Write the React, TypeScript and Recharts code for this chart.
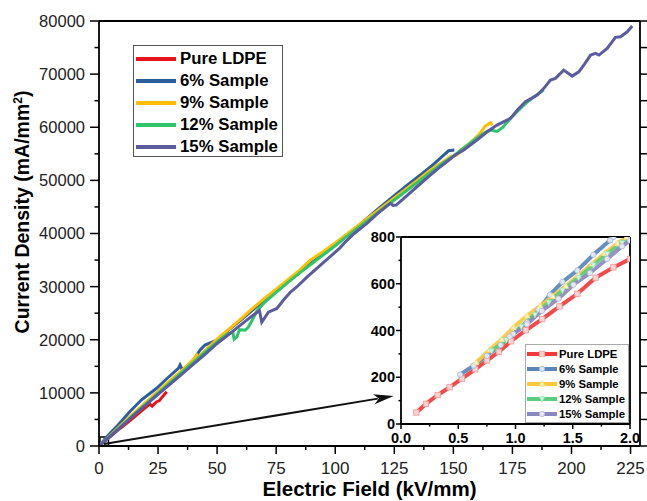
import React from 'react';
import { LineChart, Line, XAxis, YAxis, ReferenceArea, ReferenceLine } from 'recharts';

const FONT = '"Liberation Sans", Arial, Helvetica, sans-serif';

// main plot: electric field (kV/mm) vs current density (mA/mm^2)
const ldpeMain = [
  [0, 0], [3, 1100], [6, 2250], [9, 3350], [11.7, 4270], [15, 5500], [18, 6600], [20.2, 7400],
  [21.5, 7900], [22.5, 7500], [24.4, 8340], [25.5, 8500], [26.5, 9100], [27.5, 9600], [28.7, 10220],
];
const sample6Main = [
  [0, 0], [3.3, 1750], [8, 3900], [13.1, 6500], [18, 8700], [24.4, 10860], [29, 12800], [33.6, 14620],
  [34.3, 15240], [35.2, 14400], [36.4, 14620], [40, 16190], [42.8, 18070], [44.9, 19010], [49.9, 19950],
  [55, 21900], [60, 23700], [65, 25600], [70, 27500], [75, 29300], [80, 31100], [85, 32800], [90, 34500],
  [95, 36200], [100, 37900], [106, 40000], [112, 42300], [118, 44600], [126, 47500], [131, 49300],
  [136, 51000], [141, 52800], [145.9, 54770], [148, 55580], [150.4, 55700],
];
const sample9Main = [
  [0, 0], [5, 2100], [10, 4200], [15, 6300], [20, 8300], [25, 10300], [30, 12300], [35, 14200],
  [40, 16300], [41.4, 17130], [42, 16700], [45, 18000], [50, 20100], [55, 22000], [60, 23900],
  [65, 25900], [70, 27800], [75, 29500], [80, 31300], [85, 33100], [89.4, 35000], [95, 36600],
  [100, 38200], [105, 39900], [110, 41600], [115, 43300], [120, 45000], [125, 46700], [130, 48400],
  [135, 50100], [140.3, 51940], [145, 53300], [149, 54500], [151.5, 54770], [153, 55700], [157, 57000],
  [161, 58700], [163.5, 60200], [165.7, 60850], [166.5, 60400],
];
const sample12Main = [
  [0, 0], [5, 2000], [10, 4000], [15, 6000], [20, 8000], [25, 9950], [30, 11900], [35, 13850],
  [40, 15800], [45, 17700], [50, 19600], [54, 21000], [56.6, 21500], [57.2, 20100], [58.3, 20500],
  [59.5, 21900], [61.9, 21800], [63.3, 22450], [65, 23800], [66.8, 25400], [70, 27000], [75, 28900],
  [80, 30800], [85, 32600], [90, 34300], [95, 36000], [100, 37700], [105, 39500], [110, 41200],
  [115, 42900], [120, 44600], [125, 46300], [130, 48000], [135, 49700], [140, 51400], [145, 53100],
  [150, 54600], [155, 56300], [160, 58000], [163, 58900], [165.7, 59470], [168.5, 59200], [171, 60000],
  [174, 61600], [177, 62920], [179.1, 63860], [182, 65000], [185, 66000], [188.3, 67000],
];
const sample15Main = [
  [0, 0], [5, 1900], [10, 3900], [15, 5900], [20, 7800], [25, 9700], [30, 11600], [35, 13500],
  [40, 15400], [45, 17300], [50, 19300], [55, 21000], [60, 22800], [64, 24200], [67.9, 25500],
  [68.9, 23300], [71.7, 25200], [75.3, 25900], [78.1, 27480], [80.9, 28900], [83.8, 29980], [88, 31800],
  [92.2, 33440], [97, 35300], [102, 37300], [104.2, 38390], [108, 40000], [113.4, 41910], [118, 43800],
  [123.3, 45680], [124.5, 45300], [125.8, 45360], [130, 47000], [134.6, 48800], [139.5, 50700],
  [144.5, 52570], [150.8, 54770], [154.4, 55710], [160, 57590], [164.3, 59150], [168.5, 60410],
  [174.2, 61670], [177, 63200], [180.5, 64800], [185.5, 66060], [188.3, 67320], [191.1, 68880],
  [193.2, 69200], [196.7, 70760], [200.3, 69630], [203.1, 70440], [205.5, 71900], [208.1, 73590],
  [210.2, 73900], [211.6, 73590], [215.1, 74850], [218.6, 76920], [220.8, 77030], [223.6, 77970],
  [225.7, 79040],
];

// inset: 0 - 2 kV/mm
const ldpeInset = [
  [0.134, 49], [0.218, 86], [0.32, 124], [0.424, 157], [0.532, 194], [0.648, 234], [0.75, 271],
  [0.855, 309], [0.962, 354], [1.09, 401], [1.233, 449], [1.384, 503], [1.54, 557], [1.7, 626],
  [1.855, 670], [2.0, 706],
];
const sample6Inset = [
  [0.517, 211], [0.634, 250], [0.75, 292], [0.87, 338], [0.98, 385], [1.1, 435], [1.2, 490],
  [1.3, 553], [1.41, 608], [1.54, 657], [1.68, 724], [1.826, 786], [1.855, 800],
];
const sample9Inset = [
  [0.657, 263], [0.773, 317], [0.88, 362], [0.983, 414], [1.1, 463], [1.215, 506], [1.326, 546],
  [1.44, 590], [1.55, 635], [1.67, 685], [1.78, 730], [1.89, 772], [1.97, 800],
];
const sample12Inset = [
  [0.79, 313], [0.92, 360], [1.05, 417], [1.17, 468], [1.29, 520], [1.41, 572], [1.55, 626],
  [1.68, 680], [1.8, 728], [1.93, 775], [2.0, 800],
];
const sample15Inset = [
  [0.948, 374], [1.1, 427], [1.23, 484], [1.375, 536], [1.506, 596], [1.65, 646], [1.8, 706],
  [1.93, 760], [2.0, 785],
];

const seriesNames = ['Pure LDPE', '6% Sample', '9% Sample', '12% Sample', '15% Sample'];
const mainColors = ['#e8141c', '#2c5d9f', '#ffbf00', '#2fc66b', '#5b5ba0'];
const insetColors = ['#f2393b', '#5b86ba', '#fcc93a', '#5ccd7d', '#8a88c1'];
const insetFills = ['#fcd2d2', '#dfe8f5', '#fff3c4', '#d9f5e1', '#e8e7f6'];
const insetMarkStroke = ['#f59a9a', '#9fb8d8', '#fde08a', '#9ee2b1', '#b9b7dc'];
const insetShapes = ['square', 'circle', 'up', 'down', 'circle'];

const xTicksMain = [0, 12.5, 25, 37.5, 50, 62.5, 75, 87.5, 100, 112.5, 125, 137.5, 150, 162.5, 175, 187.5, 200, 212.5, 225];
const yTicksMain = [0, 5000, 10000, 15000, 20000, 25000, 30000, 35000, 40000, 45000, 50000, 55000, 60000, 65000, 70000, 75000, 80000];
const xTicksInset = [0, 0.25, 0.5, 0.75, 1, 1.25, 1.5, 1.75, 2];
const yTicksInset = [0, 100, 200, 300, 400, 500, 600, 700, 800];

const toPts = (arr: number[][]) => arr.map(([x, y]) => ({ x, y }));
const mainData = [ldpeMain, sample6Main, sample9Main, sample12Main, sample15Main].map(toPts);
const insetData = [ldpeInset, sample6Inset, sample9Inset, sample12Inset, sample15Inset].map(toPts);

const axisLine = { stroke: '#000', strokeWidth: 1.8 };

// tick helpers: recharts gives the point on the axis line, we draw the tick and label ourselves
const bottomTick = (step: number, len: number, size: number, bold: boolean, fmt: (v: number) => string, dy: number) =>
  (p: any) => {
    const v = p.payload.value;
    const major = Math.abs(v / step - Math.round(v / step)) < 1e-6;
    return (
      <g key={`b-${v}`}>
        <line x1={p.x} x2={p.x} y1={p.y} y2={p.y + (major ? len : len / 2)} stroke="#000" strokeWidth={1.5} />
        {major && (
          <text x={p.x} y={p.y + dy} textAnchor="middle" fontSize={size} fontWeight={bold ? 700 : 400}
            fill={bold ? '#000' : '#222'} fontFamily={FONT}>
            {fmt(v)}
          </text>
        )}
      </g>
    );
  };

const leftTick = (step: number, len: number, size: number, bold: boolean, gap: number) => (p: any) => {
  const v = p.payload.value;
  const major = v % step === 0;
  return (
    <g key={`l-${v}`}>
      <line x1={p.x} x2={p.x - (major ? len : len / 2)} y1={p.y} y2={p.y} stroke="#000" strokeWidth={1.5} />
      {major && (
        <text x={p.x - gap} y={p.y} dy="0.36em" textAnchor="end" fontSize={size} fontWeight={bold ? 700 : 400}
          fill={bold ? '#000' : '#222'} fontFamily={FONT}>
          {v}
        </text>
      )}
    </g>
  );
};

const topTick = (step: number, len: number) => (p: any) => {
  const v = p.payload.value;
  const major = Math.abs(v / step - Math.round(v / step)) < 1e-6;
  return (
    <g key={`t-${v}`}>
      <line x1={p.x} x2={p.x} y1={p.y} y2={p.y - (major ? len : len / 2)} stroke="#000" strokeWidth={1.5} />
    </g>
  );
};

const rightTick = (len: number) => (p: any) => (
  <g key={`r-${p.payload.value}`}>
    <line x1={p.x} x2={p.x + len} y1={p.y} y2={p.y} stroke="#000" strokeWidth={1.5} />
  </g>
);

const Marker = ({ cx, cy, shape, stroke, fill }: any) => {
  if (cx == null || cy == null) return null;
  const r = 2.7;
  if (shape === 'square') {
    return <rect x={cx - r} y={cy - r} width={r * 2} height={r * 2} fill={fill} stroke={stroke} strokeWidth={0.8} />;
  }
  if (shape === 'up') {
    return <polygon points={`${cx},${cy - r - 0.5} ${cx - r},${cy + r - 0.5} ${cx + r},${cy + r - 0.5}`} fill={fill} stroke={stroke} strokeWidth={0.8} />;
  }
  if (shape === 'down') {
    return <polygon points={`${cx},${cy + r + 0.5} ${cx - r},${cy - r + 0.5} ${cx + r},${cy - r + 0.5}`} fill={fill} stroke={stroke} strokeWidth={0.8} />;
  }
  return <circle cx={cx} cy={cy} r={r} fill={fill} stroke={stroke} strokeWidth={0.8} />;
};

const Arrow = (p: any) => {
  const { x1, y1, x2, y2 } = p;
  const ang = Math.atan2(y2 - y1, x2 - x1);
  const L = 20;
  const W = 5;
  const bx = x2 - L * Math.cos(ang);
  const by = y2 - L * Math.sin(ang);
  const nx = -Math.sin(ang) * W;
  const ny = Math.cos(ang) * W;
  return (
    <g>
      <line x1={x1} y1={y1} x2={bx + 4 * Math.cos(ang)} y2={by + 4 * Math.sin(ang)} stroke="#111" strokeWidth={2} />
      <polygon points={`${x2},${y2} ${bx + nx},${by + ny} ${bx + 5 * Math.cos(ang)},${by + 5 * Math.sin(ang)} ${bx - nx},${by - ny}`} fill="#111" />
    </g>
  );
};

function MainLegend() {
  return (
    <div style={{ position: 'absolute', left: 133, top: 45, width: 148, height: 110, border: '1px solid #555', background: '#fff' }}>
      {seriesNames.map((n, i) => (
        <div key={n} style={{ position: 'absolute', left: 0, top: 2 + i * 22, height: 22, display: 'flex', alignItems: 'center' }}>
          <span style={{ display: 'inline-block', marginLeft: 2, width: 40, height: 4, background: mainColors[i] }} />
          <span style={{ marginLeft: 4, fontFamily: FONT, fontWeight: 700, fontSize: 16.8, color: '#000', whiteSpace: 'nowrap' }}>{n}</span>
        </div>
      ))}
    </div>
  );
}

function InsetLegend() {
  return (
    <div style={{ position: 'absolute', left: 525, top: 344, width: 102, height: 77, border: '1px solid #aaa', background: '#fff' }}>
      {seriesNames.map((n, i) => (
        <div key={n} style={{ position: 'absolute', left: 0, top: 1 + i * 15, height: 15, display: 'flex', alignItems: 'center' }}>
          <svg width={30} height={10} style={{ marginLeft: 1 }}>
            <line x1={0} x2={30} y1={5} y2={5} stroke={insetColors[i]} strokeWidth={4} />
            <Marker cx={15} cy={5} shape={insetShapes[i]} stroke={insetMarkStroke[i]} fill={insetFills[i]} />
          </svg>
          <span style={{ marginLeft: 2, fontFamily: FONT, fontWeight: 700, fontSize: 11.3, color: '#000', whiteSpace: 'nowrap' }}>{n}</span>
        </div>
      ))}
    </div>
  );
}

export default function App() {
  return (
    <div style={{ position: 'absolute', left: 0, top: 0, width: 647, height: 501, background: '#fff', overflow: 'hidden' }}>
      <LineChart width={647} height={501} margin={{ top: 7, right: 0, bottom: 25, left: 8 }}>
        <XAxis dataKey="x" type="number" domain={[0, 229]} ticks={xTicksMain} interval={0} allowDataOverflow
          height={30} tickSize={0} tickMargin={0} tickLine={false} axisLine={axisLine}
          tick={bottomTick(25, 8, 17, false, (v) => String(v), 28)} />
        <XAxis xAxisId="top" orientation="top" type="number" domain={[0, 229]} ticks={xTicksMain} interval={0}
          allowDataOverflow height={14} tickSize={0} tickMargin={0} tickLine={false} axisLine={axisLine}
          tick={topTick(25, 8)} />
        <YAxis dataKey="y" type="number" domain={[0, 80000]} ticks={yTicksMain} interval={0} allowDataOverflow
          width={91} tickSize={0} tickMargin={0} tickLine={false} axisLine={axisLine}
          tick={leftTick(10000, 9, 16.5, false, 14)} />
        <YAxis yAxisId="right" orientation="right" type="number" domain={[0, 80000]} ticks={yTicksMain} interval={0}
          allowDataOverflow width={7} tickSize={0} tickMargin={0} tickLine={false} axisLine={axisLine}
          tick={rightTick(7)} />
        {mainData.map((d, i) => (
          <Line key={seriesNames[i]} data={d} dataKey="y" name={seriesNames[i]} type="linear"
            stroke={mainColors[i]} strokeWidth={3} dot={false} isAnimationActive={false} />
        ))}
        <ReferenceArea x1={0.4} x2={4} y1={0} y2={1700} fill="none" stroke="#000" strokeWidth={1.5} />
        <ReferenceLine segment={[{ x: 2.1, y: 380 }, { x: 124.7, y: 9410 }]} shape={Arrow} />
      </LineChart>

      <MainLegend />

      <div style={{ position: 'absolute', left: 401, top: 237, width: 229, height: 187, background: '#fff' }} />
      <div style={{ position: 'absolute', left: 355, top: 228 }}>
        <LineChart width={285} height={222} margin={{ top: 5, right: 6, bottom: 0, left: 0 }}>
          <XAxis dataKey="x" type="number" domain={[0, 2]} ticks={xTicksInset} interval={0} allowDataOverflow
            height={26} tickSize={0} tickMargin={0} tickLine={false} axisLine={axisLine}
            tick={bottomTick(0.5, 5, 14.5, true, (v) => v.toFixed(1), 19)} />
          <XAxis xAxisId="top" orientation="top" type="number" domain={[0, 2]} ticks={xTicksInset} interval={0}
            allowDataOverflow height={4} tickSize={0} tickMargin={0} tickLine={false} axisLine={axisLine}
            tick={topTick(0.5, 4)} />
          <YAxis dataKey="y" type="number" domain={[0, 800]} ticks={yTicksInset} interval={0} allowDataOverflow
            width={46} tickSize={0} tickMargin={0} tickLine={false} axisLine={axisLine}
            tick={leftTick(200, 5, 14.5, true, 6)} />
          <YAxis yAxisId="right" orientation="right" type="number" domain={[0, 800]} ticks={yTicksInset} interval={0}
            allowDataOverflow width={4} tickSize={0} tickMargin={0} tickLine={false} axisLine={axisLine}
            tick={rightTick(0)} />
          {insetData.map((d, i) => (
            <Line key={seriesNames[i]} data={d} dataKey="y" name={seriesNames[i]} type="linear"
              stroke={insetColors[i]} strokeWidth={4} strokeOpacity={0.92} isAnimationActive={false}
              dot={(p: any) => (
                <Marker key={`${i}-${p.index}`} cx={p.cx} cy={p.cy} shape={insetShapes[i]}
                  stroke={insetMarkStroke[i]} fill={insetFills[i]} />
              )} />
          ))}
        </LineChart>
      </div>

      <InsetLegend />

      <div style={{ position: 'absolute', left: 22 - 160, top: 212 - 12, width: 320, height: 24, lineHeight: '24px',
        textAlign: 'center', transform: 'rotate(-90deg)', fontFamily: FONT, fontWeight: 700, fontSize: 19.5, color: '#000', whiteSpace: 'nowrap' }}>
        Current Density (mA/mm<sup style={{ fontSize: 12, verticalAlign: 'super', lineHeight: 0 }}>2</sup>)
      </div>
      <div style={{ position: 'absolute', left: 99, top: 478, width: 541, lineHeight: '22px', textAlign: 'center',
        fontFamily: FONT, fontWeight: 700, fontSize: 20.5, color: '#000', whiteSpace: 'nowrap' }}>
        Electric Field (kV/mm)
      </div>
    </div>
  );
}
